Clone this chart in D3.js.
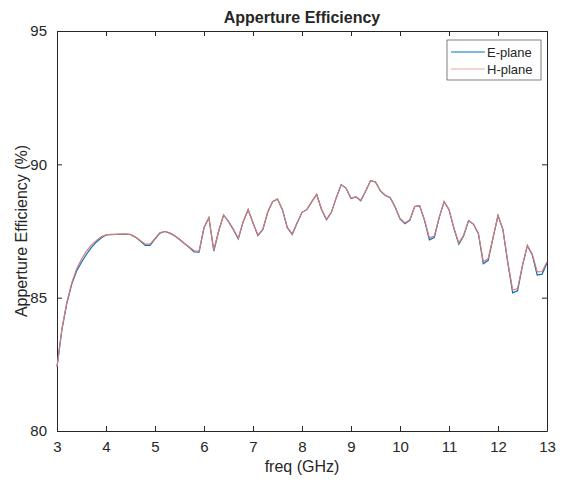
<!DOCTYPE html>
<html>
<head>
<meta charset="utf-8">
<script src="https://cdn.jsdelivr.net/npm/d3@7"></script>
<style>
  html, body { margin: 0; padding: 0; background: #fff; }
  svg text { font-family: "Liberation Sans", Arial, sans-serif; fill: #262626; }
</style>
</head>
<body>
<div id="chart"></div>
<script>
(function () {
  // frequency points (GHz)
  const freq = [3.0, 3.1, 3.2, 3.3, 3.4, 3.5, 3.6, 3.7, 3.8, 3.9,
    4.0, 4.1, 4.2, 4.3, 4.4, 4.5, 4.6, 4.7, 4.8, 4.9,
    5.0, 5.1, 5.2, 5.3, 5.4, 5.5, 5.6, 5.7, 5.8, 5.9,
    6.0, 6.1, 6.2, 6.3, 6.4, 6.5, 6.6, 6.7, 6.8, 6.9,
    7.0, 7.1, 7.2, 7.3, 7.4, 7.5, 7.6, 7.7, 7.8, 7.9,
    8.0, 8.1, 8.2, 8.3, 8.4, 8.5, 8.6, 8.7, 8.8, 8.9,
    9.0, 9.1, 9.2, 9.3, 9.4, 9.5, 9.6, 9.7, 9.8, 9.9,
    10.0, 10.1, 10.2, 10.3, 10.4, 10.5, 10.6, 10.7, 10.8, 10.9,
    11.0, 11.1, 11.2, 11.3, 11.4, 11.5, 11.6, 11.7, 11.8, 11.9,
    12.0, 12.1, 12.2, 12.3, 12.4, 12.5, 12.6, 12.7, 12.8, 12.9, 13.0];

  // E-plane efficiency (%)
  const ePlane = [82.4, 83.8, 84.78, 85.5, 86.0, 86.33, 86.62, 86.88, 87.08, 87.24,
    87.35, 87.36, 87.37, 87.37, 87.38, 87.37, 87.27, 87.12, 86.96, 86.96,
    87.2, 87.42, 87.48, 87.42, 87.32, 87.18, 87.03, 86.88, 86.72, 86.71,
    87.62, 88.0, 86.75, 87.5, 88.1, 87.85, 87.55, 87.2, 87.85, 88.3,
    87.8, 87.33, 87.55, 88.2, 88.6, 88.7, 88.3, 87.62, 87.37, 87.8,
    88.2, 88.3, 88.6, 88.87, 88.3, 87.92, 88.2, 88.75, 89.24, 89.1,
    88.72, 88.78, 88.63, 89.0, 89.39, 89.34, 89.0, 88.83, 88.75, 88.4,
    87.95, 87.77, 87.9, 88.42, 88.45, 87.9, 87.17, 87.25, 88.0, 88.6,
    88.3, 87.6, 87.0, 87.32, 87.89, 87.75, 87.4, 86.27, 86.4, 87.25,
    88.08, 87.55, 86.3, 85.18, 85.26, 86.2, 86.95, 86.6, 85.85, 85.88, 86.3];

  // H-plane efficiency (%)
  const hPlane = [82.4, 83.82, 84.82, 85.55, 86.08, 86.44, 86.74, 86.97, 87.14, 87.28,
    87.36, 87.37, 87.37, 87.38, 87.38, 87.37, 87.28, 87.14, 87.01, 87.01,
    87.22, 87.43, 87.49, 87.43, 87.33, 87.19, 87.04, 86.9, 86.76, 86.75,
    87.63, 88.0, 86.78, 87.51, 88.1, 87.86, 87.56, 87.23, 87.86, 88.3,
    87.81, 87.35, 87.56, 88.2, 88.6, 88.7, 88.31, 87.64, 87.39, 87.81,
    88.2, 88.31, 88.6, 88.87, 88.31, 87.94, 88.21, 88.75, 89.24, 89.1,
    88.73, 88.79, 88.65, 89.0, 89.39, 89.34, 89.01, 88.84, 88.76, 88.41,
    87.97, 87.8, 87.92, 88.42, 88.45, 87.92, 87.24, 87.31, 88.01, 88.6,
    88.31, 87.62, 87.05, 87.35, 87.89, 87.76, 87.42, 86.35, 86.47, 87.27,
    88.08, 87.57, 86.34, 85.28, 85.34, 86.23, 86.96, 86.63, 85.97, 85.98, 86.35];

  const xTicks = [3, 4, 5, 6, 7, 8, 9, 10, 11, 12, 13];
  const yTicks = [80, 85, 90, 95];

  const width = 574, height = 484;
  const margin = { left: 57, right: 27, top: 31, bottom: 53 };

  const svg = d3.select("#chart").append("svg")
    .attr("width", width)
    .attr("height", height);

  const x = d3.scaleLinear().domain([3, 13]).range([margin.left, width - margin.right]);
  const y = d3.scaleLinear().domain([80, 95]).range([height - margin.bottom, margin.top]);

  const axisColor = "#262626";
  const tickLen = 5;

  // axes (ticks pointing inward, box on)
  const bottom = svg.append("g")
    .attr("transform", `translate(0,${y(80)})`)
    .call(d3.axisBottom(x).tickValues(xTicks).tickSizeInner(-tickLen).tickSizeOuter(0).tickPadding(10));
  const top = svg.append("g")
    .attr("transform", `translate(0,${y(95)})`)
    .call(d3.axisTop(x).tickValues(xTicks).tickSizeInner(-tickLen).tickSizeOuter(0).tickFormat(""));
  const left = svg.append("g")
    .attr("transform", `translate(${x(3)},0)`)
    .call(d3.axisLeft(y).tickValues(yTicks).tickSizeInner(-tickLen).tickSizeOuter(0).tickPadding(10));
  const right = svg.append("g")
    .attr("transform", `translate(${x(13)},0)`)
    .call(d3.axisRight(y).tickValues(yTicks).tickSizeInner(-tickLen).tickSizeOuter(0).tickFormat(""));

  [bottom, top, left, right].forEach(g => {
    g.selectAll("path, line").attr("stroke", axisColor).attr("stroke-width", 1);
    g.selectAll("text")
      .style("font-family", '"Liberation Sans", Arial, sans-serif')
      .style("font-size", "15px")
      .attr("fill", axisColor);
  });

  // lines
  const line = d3.line()
    .x((d, i) => x(freq[i]))
    .y(d => y(d));

  svg.append("path")
    .datum(ePlane)
    .attr("fill", "none")
    .attr("stroke", "#0072BD")
    .attr("stroke-width", 1.2)
    .attr("d", line);

  svg.append("path")
    .datum(hPlane)
    .attr("fill", "none")
    .attr("stroke", "#DC7A70")
    .attr("stroke-width", 1.2)
    .attr("d", line);

  // title + labels
  svg.append("text")
    .attr("x", (x(3) + x(13)) / 2)
    .attr("y", 23)
    .attr("text-anchor", "middle")
    .style("font-size", "16px")
    .style("font-weight", "bold")
    .attr("fill", "#000")
    .text("Apperture Efficiency");

  svg.append("text")
    .attr("x", (x(3) + x(13)) / 2)
    .attr("y", 472)
    .attr("text-anchor", "middle")
    .style("font-size", "16px")
    .text("freq (GHz)");

  svg.append("text")
    .attr("transform", `translate(27,${(y(80) + y(95)) / 2}) rotate(-90)`)
    .attr("text-anchor", "middle")
    .style("font-size", "16px")
    .text("Apperture Efficiency (%)");

  // legend
  const legend = svg.append("g").attr("transform", "translate(447,40)");
  legend.append("rect")
    .attr("width", 94).attr("height", 40)
    .attr("fill", "#fff")
    .attr("stroke", "#262626")
    .attr("stroke-width", 0.6);

  const items = [
    { name: "E-plane", color: "#0072BD" },
    { name: "H-plane", color: "#F0A8A0" }
  ];
  items.forEach((it, i) => {
    const cy = 12 + i * 17;
    legend.append("line")
      .attr("x1", 4).attr("x2", 38)
      .attr("y1", cy).attr("y2", cy)
      .attr("stroke", it.color).attr("stroke-width", 1);
    legend.append("text")
      .attr("x", 40).attr("y", cy + 4.5)
      .style("font-size", "13px")
      .attr("fill", "#000")
      .text(it.name);
  });
})();
</script>
</body>
</html>
